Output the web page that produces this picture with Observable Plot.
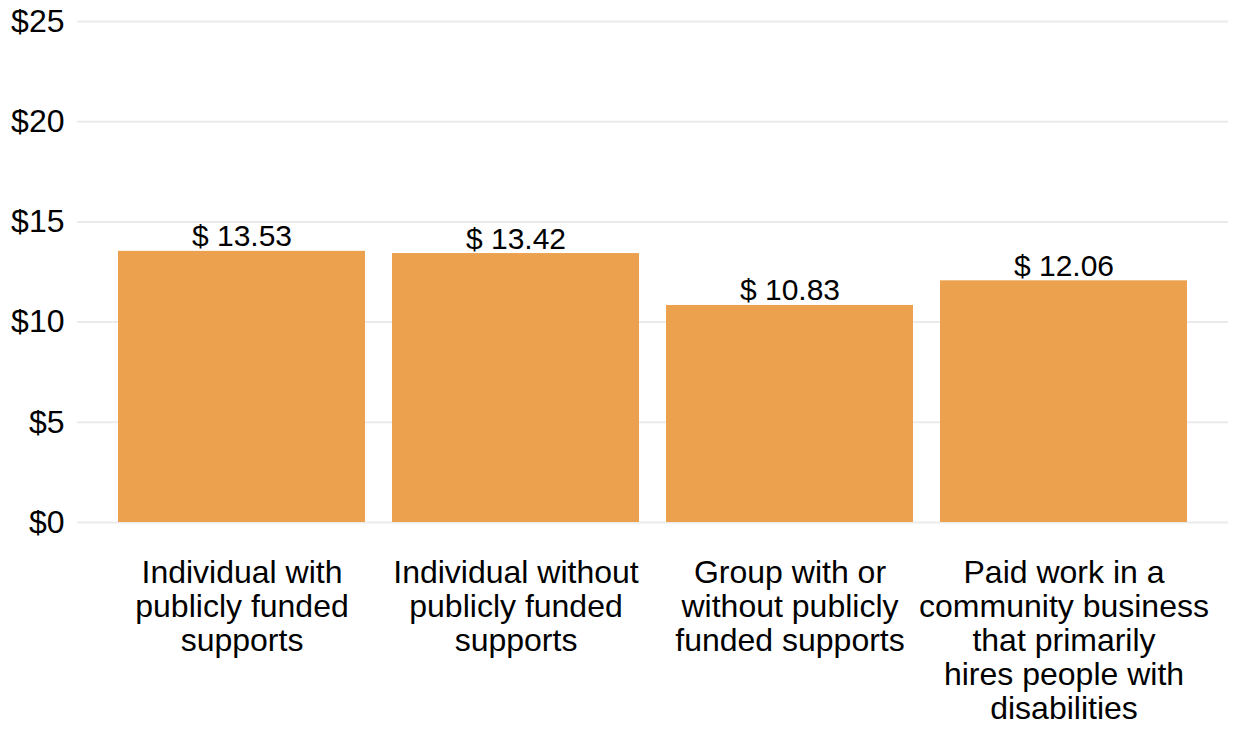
<!DOCTYPE html>
<html>
<head>
<meta charset="utf-8">
<script src="https://cdn.jsdelivr.net/npm/d3@7"></script>
<script src="https://cdn.jsdelivr.net/npm/@observablehq/plot@0.6"></script>
<style>
  html, body { margin: 0; padding: 0; background: #fff; }
  #chart svg { display: block; }
</style>
</head>
<body>
<div id="chart"></div>
<script>
const categories = [
  "Individual with\npublicly funded\nsupports",
  "Individual without\npublicly funded\nsupports",
  "Group with or\nwithout publicly\nfunded supports",
  "Paid work in a\ncommunity business\nthat primarily\nhires people with\ndisabilities"
];
const wages = [13.53, 13.42, 10.83, 12.06];
const yTicks = [0, 5, 10, 15, 20, 25];

const data = categories.map((c, i) => ({category: c, wage: wages[i]}));

const chart = Plot.plot({
  width: 1233,
  height: 729,
  marginTop: 21,
  marginBottom: 207,
  marginLeft: 77,
  marginRight: 5,
  style: {fontFamily: "'Liberation Sans', Arial, sans-serif", fontSize: "32px", color: "#000", background: "#fff"},
  x: {domain: categories, paddingInner: 0.1, paddingOuter: 0.146, label: null},
  y: {domain: [0, 25], label: null},
  marks: [
    Plot.gridY(yTicks, {stroke: "#ebebeb", strokeOpacity: 1, strokeWidth: 2}),
    Plot.barY(data, {x: "category", y: "wage", fill: "#eca14e"}),
    Plot.text(data, {x: "category", y: "wage", text: d => "$ " + d.wage.toFixed(2), lineAnchor: "bottom", dy: -5, fontSize: 30, fill: "#000"}),
    Plot.axisY({ticks: yTicks, tickFormat: d => "$" + d, tickSize: 0, tickPadding: 13, fontSize: 32, label: null}),
    Plot.axisX({tickSize: 0, tickPadding: 36, fontSize: 32, lineHeight: 1.0625, label: null})
  ]
});
document.getElementById("chart").appendChild(chart);
</script>
</body>
</html>
